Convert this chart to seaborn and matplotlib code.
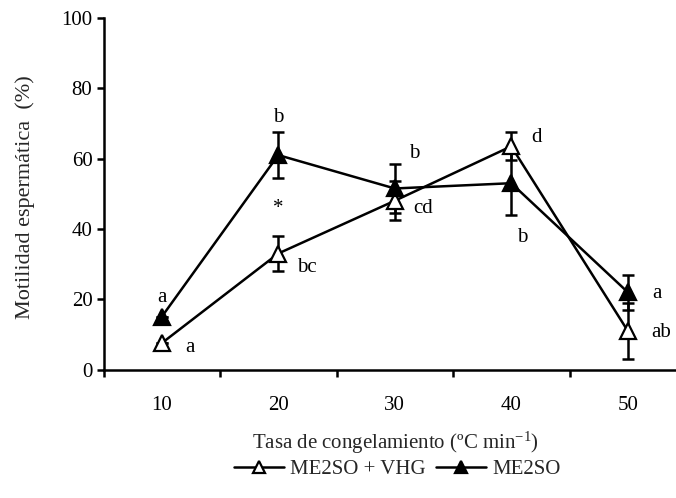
import numpy as np
import pandas as pd
import matplotlib
matplotlib.use("Agg")
import matplotlib.pyplot as plt
import seaborn as sns

# ---- data ----
categories = ["10", "20", "30", "40", "50"]
vhg_mean = [7.5, 33.0, 48.0, 63.5, 11.0]      # ME2SO + VHG (open triangles)
vhg_err = [0.0, 5.0, 5.5, 4.0, 8.0]
me2so_mean = [15.0, 61.0, 51.5, 53.0, 22.0]   # ME2SO (filled triangles)
me2so_err = [0.0, 6.5, 7.0, 9.0, 5.0]

# significance letters: (category index offset, y, text)
letters_x = [0.0, 0.24, 1.0, 1.0, 1.245, 2.17, 2.24, 3.22, 3.09, 4.25, 4.29]
letters_y = [20.5, 6.3, 71.7, 45.8, 29.0, 61.4, 45.8, 66.0, 37.6, 21.6, 10.5]
letters_t = ["a", "a", "b", "*", "bc", "b", "cd", "d", "b", "a", "ab"]

series_names = ["ME2SO + VHG", "ME2SO"]

sns.set_theme(style="ticks")
plt.rcParams["font.family"] = ["Liberation Serif", "DejaVu Serif"]
plt.rcParams["mathtext.fontset"] = "custom"
plt.rcParams["mathtext.rm"] = "Liberation Serif"
plt.rcParams["mathtext.it"] = "Liberation Serif:italic"

FS = 15

fig = plt.figure(figsize=(6.76, 4.98), dpi=100)
ax = fig.add_axes([103.5 / 676, 128.5 / 498, 582.5 / 676, 351.5 / 498])

pos = np.arange(len(categories))
df = pd.DataFrame({
    "pos": np.concatenate([pos, pos]),
    "val": vhg_mean + me2so_mean,
    "serie": [series_names[0]] * 5 + [series_names[1]] * 5,
})

styles = {
    series_names[0]: dict(mfc="white"),
    series_names[1]: dict(mfc="black"),
}
errs = {series_names[0]: vhg_err, series_names[1]: me2so_err}

handles = []
for name in series_names:
    sub = df[df["serie"] == name]
    ax.errorbar(sub["pos"], sub["val"], yerr=errs[name], fmt="none",
                ecolor="black", elinewidth=1.8, capsize=4.5, capthick=1.8, zorder=2)
    sns.lineplot(data=sub, x="pos", y="val", ax=ax, color="black", lw=1.8,
                 marker="^", markersize=11, markeredgecolor="black",
                 markeredgewidth=1.6, markerfacecolor=styles[name]["mfc"],
                 zorder=3, legend=False)
    h, = ax.plot([], [], color="black", lw=1.8, marker="^", markersize=9,
                 markeredgecolor="black", markeredgewidth=1.6,
                 markerfacecolor=styles[name]["mfc"])
    handles.append(h)

for x, y, t in zip(letters_x, letters_y, letters_t):
    ax.text(x, y, t, ha="center", va="center", fontsize=FS, color="black")

ax.set_xlim(-0.5, 4.5)
ax.set_ylim(0, 100)
ax.set_yticks([0, 20, 40, 60, 80, 100])
ax.set_xticks(pos)
ax.set_xticklabels(categories)
ax.set_xticks(np.arange(-0.5, 5.0, 1.0), minor=True)
ax.tick_params(axis="x", which="major", length=0, pad=19, labelsize=FS, colors="black")
ax.tick_params(axis="x", which="minor", length=5, width=1.8, direction="out", color="black")
ax.tick_params(axis="y", which="major", length=5, width=1.8, direction="out",
               pad=3, labelsize=FS, colors="black")
ax.set_xlabel("")
ax.set_ylabel("")
for s in ["top", "right"]:
    ax.spines[s].set_visible(False)
for s in ["left", "bottom"]:
    ax.spines[s].set_linewidth(1.8)
    ax.spines[s].set_color("black")
ax.set_facecolor("white")

fig.text(395 / 676, 1 - 443 / 498, "Tasa de congelamiento (ºC min$^{\\mathregular{-1}}$)",
         ha="center", va="center", fontsize=FS)
fig.text(25 / 676, 1 - 197 / 498, "Motilidad espermática  (%)", rotation=90,
         ha="center", va="center", fontsize=FS + 1)

fig.legend(handles, series_names, loc="center", bbox_to_anchor=(397 / 676, 1 - 469 / 498),
           ncol=2, frameon=False, fontsize=FS, handlelength=2.4, handletextpad=0.3,
           columnspacing=0.5, borderpad=0)

fig.savefig("out.png", dpi=100, facecolor="white")
